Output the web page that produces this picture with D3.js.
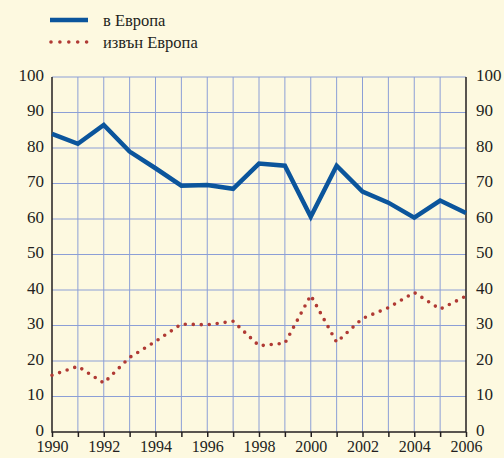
<!DOCTYPE html>
<html>
<head>
<meta charset="utf-8">
<style>
    body { margin: 0; background: #fdf9e0; }
    svg text { font-family: "Liberation Serif", "Times New Roman", Tinos, Times, "Noto Serif", "DejaVu Serif", serif; }
    .axis .domain { display: none; }
    .axis text { font-size: 17px; fill: #231f20; }
    .x.axis text { font-size: 16px; }
</style>
</head>
<body>
<svg width="504" height="458"></svg>
<script src="https://d3js.org/d3.v7.min.js"></script>
<script>
    // Values
    let years = [1990, 1991, 1992, 1993, 1994, 1995, 1996, 1997, 1998, 1999, 2000, 2001, 2002, 2003, 2004, 2005, 2006]
    let inEurope = [84, 81.2, 86.5, 79, 74.3, 69.4, 69.6, 68.5, 75.6, 75, 60.6, 75, 67.7, 64.6, 60.4, 65.2, 61.7]
    let outsideEurope = [16, 18.5, 13.8, 21, 25.5, 30.4, 30.2, 31.2, 24.3, 25, 38.5, 25.3, 32, 35, 39.3, 34.6, 38.3]
    let yTicks = [0, 10, 20, 30, 40, 50, 60, 70, 80, 90, 100]
    let seriesNames = ["в Европа", "извън Европа"]

    let margin = { top: 77, right: 38, bottom: 26, left: 52 }
    let width = 504, height = 458

    let svg = d3.select("svg")

    let x = d3.scaleLinear()
        .domain([1990, 2006])
        .range([margin.left, width - margin.right])

    let y = d3.scaleLinear()
        .domain([0, 100])
        .range([height - margin.bottom, margin.top])

    // Grid
    let grid = svg.append("g").attr("stroke", "#8c9fd6").attr("stroke-width", 1)
    grid.selectAll(".v")
        .data(years.slice(1, -1))
        .join("line")
        .attr("x1", d => x(d)).attr("x2", d => x(d))
        .attr("y1", y(100)).attr("y2", y(0))
    grid.selectAll(".h")
        .data(yTicks.slice(1))
        .join("line")
        .attr("x1", x(1990)).attr("x2", x(2006))
        .attr("y1", d => y(d)).attr("y2", d => y(d))

    // Axes
    svg.append("g")
        .attr("class", "axis")
        .attr("transform", `translate(${x(1990) - 8},-2)`)
        .call(d3.axisLeft(y).tickValues(yTicks).tickSize(0).tickPadding(0))
        .attr("font-family", null)

    svg.append("g")
        .attr("class", "axis")
        .attr("transform", `translate(${x(2006) + 10},-2)`)
        .call(d3.axisRight(y).tickValues(yTicks).tickSize(0).tickPadding(0))
        .attr("font-family", null)

    svg.append("g")
        .attr("class", "x axis")
        .attr("transform", `translate(0,${y(0)})`)
        .call(d3.axisBottom(x).tickValues(years).tickSize(5).tickPadding(4)
            .tickFormat(d => d % 2 === 0 ? d : ""))
        .attr("font-family", null)
        .call(g => g.selectAll(".tick line").attr("stroke", "#231f20").attr("stroke-width", 1.5))

    // Frame lines (left, right, bottom)
    svg.append("path")
        .attr("d", `M${x(1990)},${y(100)}V${y(0)}H${x(2006)}V${y(100)}`)
        .attr("fill", "none")
        .attr("stroke", "#231f20")
        .attr("stroke-width", 1.5)

    let line = d3.line()
        .x((d, i) => x(years[i]))
        .y(d => y(d))

    svg.append("path")
        .datum(outsideEurope)
        .attr("d", line)
        .attr("fill", "none")
        .attr("stroke", "#b03a34")
        .attr("stroke-width", 3.6)
        .attr("stroke-linecap", "round")
        .attr("stroke-dasharray", "0 8")

    svg.append("path")
        .datum(inEurope)
        .attr("d", line)
        .attr("fill", "none")
        .attr("stroke", "#0b559c")
        .attr("stroke-width", 4.5)
        .attr("stroke-linejoin", "miter")

    // Legend
    let legend = svg.append("g")
    legend.append("line")
        .attr("x1", 50).attr("x2", 88).attr("y1", 20).attr("y2", 20)
        .attr("stroke", "#0b559c").attr("stroke-width", 4.5)
    legend.append("line")
        .attr("x1", 51).attr("x2", 88).attr("y1", 42).attr("y2", 42)
        .attr("stroke", "#b03a34").attr("stroke-width", 3.6)
        .attr("stroke-linecap", "round").attr("stroke-dasharray", "0 8.9")
    legend.selectAll("text")
        .data(seriesNames)
        .join("text")
        .attr("x", 103)
        .attr("y", (d, i) => 26 + i * 22)
        .style("font-size", "16.5px")
        .style("fill", "#231f20")
        .text(d => d)
</script>
</body>
</html>
